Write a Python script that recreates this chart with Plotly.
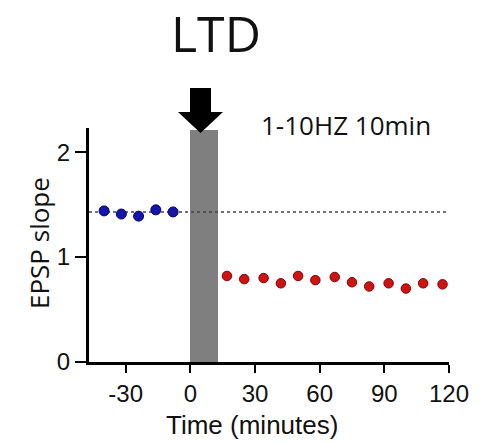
import plotly.graph_objects as go

# Baseline recording (before stimulation)
baseline_time = [-40, -32, -24, -16, -8]
baseline_slope = [1.44, 1.41, 1.39, 1.45, 1.43]

# Recording after low-frequency stimulation
post_time = [17, 25, 34, 42, 50, 58, 67, 75, 83, 92, 100, 108, 117]
post_slope = [0.82, 0.79, 0.80, 0.75, 0.82, 0.78, 0.81, 0.76, 0.72, 0.75, 0.70, 0.75, 0.74]

baseline_level = 1.43
stim_start, stim_end, stim_height = 0, 13, 2.21
x_ticks = [-30, 0, 30, 60, 90, 120]
x_tick_text = ["-30", "0", "30", "60", "90", "120"]
y_ticks = [0, 1, 2]

W, H = 497, 443
ML, MR, MT, MB = 89, 48, 128, 81
PW, PH = W - ML - MR, H - MT - MB


def px(x):
    return (x - ML) / PW


def py(y):
    return (H - MB - y) / PH


fig = go.Figure()

fig.add_trace(go.Scatter(
    x=[-47, 120], y=[baseline_level, baseline_level], mode="lines",
    line=dict(color="#444444", width=1.5, dash="dot"),
    hoverinfo="skip", showlegend=False, cliponaxis=False,
))

fig.add_trace(go.Bar(
    x=[(stim_start + stim_end) / 2], y=[stim_height], width=[stim_end - stim_start],
    marker=dict(color="#7f7f7f", line=dict(width=0)), showlegend=False,
))

fig.add_trace(go.Scatter(
    x=baseline_time, y=baseline_slope, mode="markers",
    marker=dict(size=10, color="#1515a8", line=dict(color="#00007a", width=1)),
    showlegend=False, cliponaxis=False,
))

fig.add_trace(go.Scatter(
    x=post_time, y=post_slope, mode="markers",
    marker=dict(size=9.5, color="#cc1414", line=dict(color="#8a0000", width=1)),
    showlegend=False, cliponaxis=False,
))

# Stimulation arrow
sx0, sx1, hx0, hx1, tipx = px(190), px(211), px(178), px(223), px(200.5)
ytop, ybase, ytip = py(88), py(112), py(133)
fig.add_shape(
    type="path", xref="paper", yref="paper",
    path=(f"M {sx0} {ytop} L {sx1} {ytop} L {sx1} {ybase} L {hx1} {ybase} "
          f"L {tipx} {ytip} L {hx0} {ybase} L {sx0} {ybase} Z"),
    fillcolor="black", line=dict(width=0),
)


def label(text, x, y, size, family, angle=0):
    fig.add_annotation(text=text, x=px(x), y=py(y), xref="paper", yref="paper",
                       xanchor="center", yanchor="middle", textangle=angle,
                       showarrow=False,
                       font=dict(family=family, size=size, color="#111111"))


label("LTD", 216, 33, 50, "Open Sans")
label("1-10HZ 10min", 346, 125, 26, "Open Sans")
label("EPSP slope", 39, 243, 26, "Open Sans", angle=-90)
label("Time (minutes)", 252, 425, 26, "Liberation Sans")

fig.update_layout(
    width=W, height=H,
    margin=dict(l=ML, r=MR, t=MT, b=MB),
    paper_bgcolor="white", plot_bgcolor="white",
    bargap=0,
    xaxis=dict(
        range=[-47, 120], tickvals=x_ticks, ticktext=x_tick_text,
        showgrid=False, zeroline=False,
        showline=True, linecolor="black", linewidth=3,
        ticks="outside", ticklen=8, tickwidth=2, tickcolor="black",
        tickfont=dict(family="Liberation Sans", size=24, color="#111111"),
    ),
    yaxis=dict(
        range=[0, 2.23], tickvals=y_ticks, showgrid=False, zeroline=False,
        showline=True, linecolor="black", linewidth=3,
        ticks="outside", ticklen=11, tickwidth=2, tickcolor="black",
        tickfont=dict(family="Liberation Sans", size=24, color="#111111"),
        ticklabelstandoff=0,
    ),
)

fig.write_html("out.html")
